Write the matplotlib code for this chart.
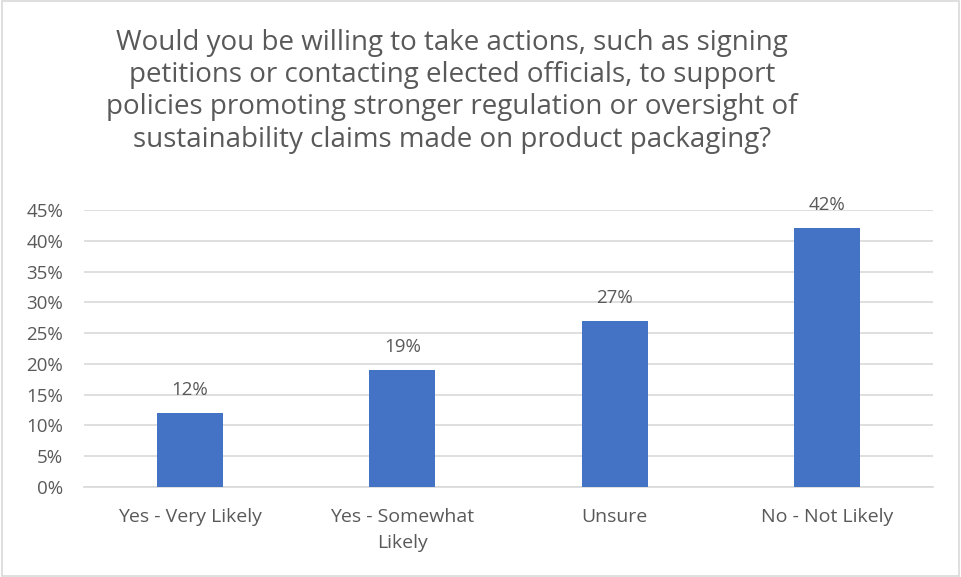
import matplotlib.pyplot as plt
from matplotlib.patches import Rectangle

categories = ["Yes - Very Likely", "Yes - Somewhat\nLikely", "Unsure", "No - Not Likely"]
shares = [12, 19, 27, 42]
yticks = [0, 5, 10, 15, 20, 25, 30, 35, 40, 45]
title = ("Would you be willing to take actions, such as signing\n"
         "petitions or contacting elected officials, to support\n"
         "policies promoting stronger regulation or oversight of\n"
         "sustainability claims made on product packaging?")

plt.rcParams['font.family'] = ['Open Sans', 'DejaVu Sans']
text_color = "#595959"
bar_color = "#4472C4"
grid_color = "#D9D9D9"

fig = plt.figure(figsize=(9.61, 5.77), dpi=100)
# axes box in pixels: left 84, right 933, top 210 (45%), bottom 487 (0%)
ax = fig.add_axes([84 / 961, 1 - 487 / 577, (933 - 84) / 961, (487 - 210) / 577])

x = range(len(categories))
ax.bar(x, shares, width=0.31, color=bar_color, zorder=3)
for xi, v in zip(x, shares):
    ax.annotate(f"{v}%", (xi, v), xytext=(0, 13), textcoords="offset points",
                ha="center", va="baseline", fontsize=13.5, color=text_color)

ax.set_xlim(-0.5, len(categories) - 0.5)
ax.set_ylim(0, 45)
ax.set_yticks(yticks)
ax.set_yticklabels([f"{t}%" for t in yticks])
ax.set_xticks(list(x))
ax.set_xticklabels(categories, linespacing=1.6)
ax.grid(axis="y", color=grid_color, linewidth=1.2, zorder=0)
for s in ["top", "right", "left"]:
    ax.spines[s].set_visible(False)
ax.spines["bottom"].set_color(grid_color)
ax.spines["bottom"].set_linewidth(1.2)
ax.tick_params(axis="both", length=0, colors=text_color, labelsize=13.5)
ax.tick_params(axis="x", labelsize=14, pad=15)
ax.tick_params(axis="y", pad=15)

fig.text(452 / 961, 1 - 29 / 577, title, ha="center", va="top", fontsize=20,
         color=text_color, linespacing=1.2)

# light frame around the chart area
fig.patches.append(Rectangle((0.002, 0.002), 0.996, 0.996, transform=fig.transFigure,
                             fill=False, edgecolor="#D9D9D9", linewidth=1.2))

fig.savefig("out.png", dpi=100)
